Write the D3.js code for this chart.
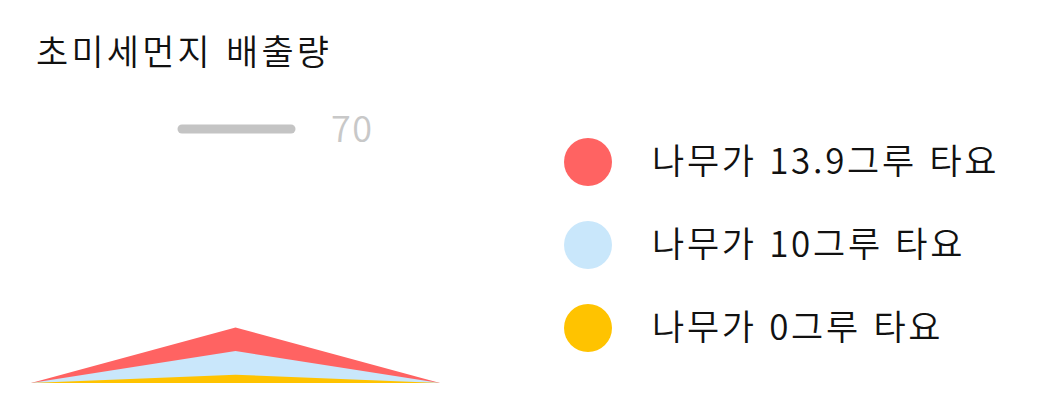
<!DOCTYPE html>
<html lang="ko">
<head>
    <meta charset="UTF-8">
    <title>초미세먼지 배출량</title>
    <script src="https://cdnjs.cloudflare.com/ajax/libs/d3/7.8.2/d3.min.js"></script>
    <style>
        body{ margin: 0; background: #fff; }
        svg{ display: block; font-family: "Noto Sans CJK KR", "Noto Sans", sans-serif; }
    </style>
</head>
<body>
    <div class="container"></div>
    <script>
        // data
        const title = '초미세먼지 배출량';
        const seriesNames = ['나무가 13.9그루 타요', '나무가 10그루 타요', '나무가 0그루 타요'];
        const seriesPeaks = [15.3, 8.8, 2.3];
        const seriesColors = ['#ff6362', '#c9e7fb', '#ffc300'];
        const refValue = 70;

        let width = 1050;
        let height = 414;

        const svg = d3.select('.container').append('svg')
            .attr('width', width).attr('height', height);

        svg.append('text')
            .attr('x', 36).attr('y', 65)
            .attr('font-size', 35).attr('font-weight', 350)
            .attr('letter-spacing', 3.2).attr('fill', '#111')
            .text(title);

        // scales
        const xScale = d3.scaleLinear().domain([0, 2]).range([31, 440]);
        const yScale = d3.scaleLinear().domain([0, refValue]).range([383, 129]);

        // reference line
        svg.append('line')
            .attr('x1', 182).attr('x2', 291)
            .attr('y1', yScale(refValue)).attr('y2', yScale(refValue))
            .attr('stroke', '#c4c4c4').attr('stroke-width', 9)
            .attr('stroke-linecap', 'round');

        svg.append('text')
            .attr('x', 331).attr('y', yScale(refValue) + 13)
            .attr('font-size', 36).attr('font-weight', 350)
            .attr('letter-spacing', 1.5).attr('fill', '#c8c8c8')
            .text(refValue);

        // triangles
        const area = d3.area()
            .x((d, i) => xScale(i))
            .y0(yScale(0))
            .y1(d => yScale(d));

        svg.selectAll('path.tri')
            .data(seriesPeaks)
            .enter()
            .append('path')
            .attr('class', 'tri')
            .attr('d', v => area([0, v, 0]))
            .attr('fill', (v, i) => seriesColors[i]);

        // legend
        const legend = svg.selectAll('g.legend')
            .data(seriesNames)
            .enter()
            .append('g')
            .attr('class', 'legend')
            .attr('transform', (d, i) => `translate(588, ${162 + i * 83})`);

        legend.append('circle')
            .attr('r', 24)
            .attr('fill', (d, i) => seriesColors[i]);

        legend.append('text')
            .attr('x', 64).attr('y', 12)
            .attr('font-size', 35).attr('font-weight', 350)
            .attr('letter-spacing', 2.7).attr('fill', '#111')
            .text(d => d);
    </script>
</body>
</html>
